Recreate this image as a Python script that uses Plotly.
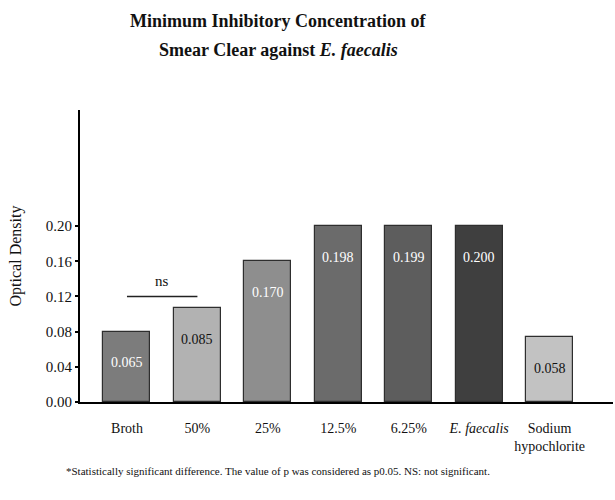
import plotly.graph_objects as go

categories = ["Broth", "50%", "25%", "12.5%", "6.25%", "<i>E. faecalis</i>", "Sodium<br>hypochlorite"]
bar_heights = [0.080, 0.1065, 0.160, 0.200, 0.200, 0.200, 0.0735]
bar_labels = ["0.065", "0.085", "0.170", "0.198", "0.199", "0.200", "0.058"]
bar_colors = ["#7c7c7c", "#b2b2b2", "#8e8e8e", "#6b6b6b", "#5d5d5d", "#3f3f3f", "#c2c2c2"]
label_colors = ["white", "#111111", "white", "white", "white", "white", "#111111"]
y_ticks = [0.00, 0.04, 0.08, 0.12, 0.16, 0.20]
ns_pair = [0, 1]
ns_level = 0.12
title_lines = ["<b>Minimum Inhibitory Concentration of</b>",
               "<b>Smear Clear against <i>E. faecalis</i></b>"]
footnote = "*Statistically significant difference. The value of p was considered as p0.05. NS: not significant."

FONT = "Liberation Serif"
W, H = 615, 500
L, R, T, B = 80, 2, 110, 98
x = list(range(len(categories)))

fig = go.Figure()
fig.add_trace(go.Bar(
    x=x, y=bar_heights, width=0.667,
    marker=dict(color=bar_colors, line=dict(color="#2e2e2e", width=1.2)),
    hoverinfo="skip", showlegend=False,
))

for xi, h, lab, c in zip(x, bar_heights, bar_labels, label_colors):
    fig.add_annotation(x=xi, y=h, text=lab, showarrow=False, yshift=-31,
                       font=dict(family=FONT, size=14, color=c))

# ns bracket
fig.add_trace(go.Scatter(x=ns_pair, y=[ns_level, ns_level], mode="lines",
                         line=dict(color="#222222", width=1.5),
                         hoverinfo="skip", showlegend=False))
fig.add_annotation(x=sum(ns_pair) / 2, y=ns_level, text="ns", showarrow=False,
                   yshift=15, font=dict(family=FONT, size=15, color="#111111"))

def px_to_paper(px, py):
    return (px - L) / (W - L - R), (H - B - py) / (H - T - B)

for line, py in zip(title_lines, [21, 50]):
    ax, ay = px_to_paper(278, py)
    fig.add_annotation(xref="paper", yref="paper", x=ax, y=ay, text=line,
                       showarrow=False, xanchor="center", yanchor="middle",
                       font=dict(family=FONT, size=18, color="#111111"))

fx, fy = px_to_paper(278, 471)
fig.add_annotation(xref="paper", yref="paper", x=fx, y=fy, text=footnote,
                   showarrow=False, xanchor="center", yanchor="middle",
                   font=dict(family=FONT, size=11, color="#111111"))

fig.update_layout(
    width=W, height=H,
    margin=dict(l=L, r=R, t=T, b=B, pad=0),
    paper_bgcolor="white", plot_bgcolor="white",
    font=dict(family=FONT, color="#111111"),
    bargap=0,
)

fig.update_xaxes(
    range=[-0.667, 6.9], tickvals=x, ticktext=categories,
    showline=True, linecolor="black", linewidth=2, ticks="",
    ticklabelstandoff=12,
    showgrid=False, zeroline=False, automargin=False,
    tickfont=dict(family=FONT, size=14, color="#111111"),
)
fig.update_yaxes(
    range=[0, 0.332], tickvals=y_ticks, ticktext=[f"{v:.2f}" for v in y_ticks],
    showline=True, linecolor="black", linewidth=2,
    ticks="outside", ticklen=3, tickwidth=1.5, tickcolor="black",
    showgrid=False, zeroline=False, automargin=False,
    tickfont=dict(family=FONT, size=15, color="#111111"),
    title=dict(text="Optical Density", font=dict(family=FONT, size=16, color="#111111"), standoff=20),
)

fig.write_html("out.html", config={"displayModeBar": False},
               post_script="document.body.style.margin='0';")
